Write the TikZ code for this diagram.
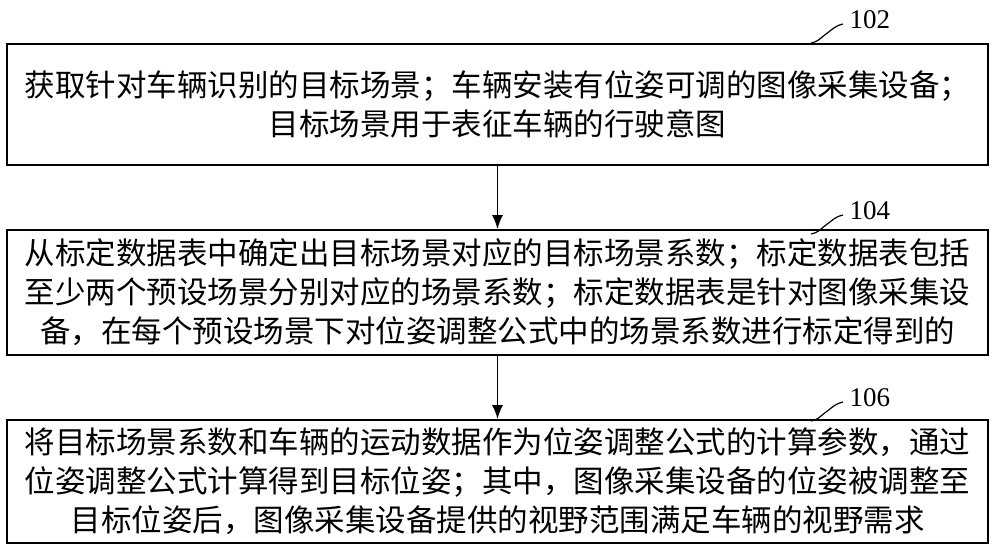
\documentclass[tikz,border=0pt]{standalone}
\usepackage{fontspec}
\usetikzlibrary{calc,arrows.meta}
\setmainfont{Liberation Serif}
\newfontfamily\cjk{Noto Sans CJK SC}
\begin{document}
\begin{tikzpicture}[x=1pt,y=-1pt,
  box/.style={draw,line width=1.6pt,minimum width=981pt,inner sep=0pt,align=center,font=\cjk\fontsize{30.5}{39}\selectfont},
  arr/.style={-{Latex[length=14pt,width=11pt]},line width=1.8pt},
  lab/.style={font=\fontsize{27}{27}\selectfont,anchor=west}]
\useasboundingbox (0,0) rectangle (1000,550);
\node[box,minimum height=121pt] (b1) at (497.5,104.5) {获取针对车辆识别的目标场景；车辆安装有位姿可调的图像采集设备；\\目标场景用于表征车辆的行驶意图};
\node[box,minimum height=125pt] (b2) at (497.5,292.5) {从标定数据表中确定出目标场景对应的目标场景系数；标定数据表包括\\至少两个预设场景分别对应的场景系数；标定数据表是针对图像采集设\\备，在每个预设场景下对位姿调整公式中的场景系数进行标定得到的};
\node[box,minimum height=123pt] (b3) at (497.5,481.5) {将目标场景系数和车辆的运动数据作为位姿调整公式的计算参数，通过\\位姿调整公式计算得到目标位姿；其中，图像采集设备的位姿被调整至\\目标位姿后，图像采集设备提供的视野范围满足车辆的视野需求};
\draw[arr] (b1.south) -- (b2.north);
\draw[arr] (b2.south) -- (b3.north);
\foreach \n/\y/\t in {l1/20/102,l2/211/104,l3/398/106}{
  \node[lab] (\n) at (846,\y) {\t};
  \draw[line width=1.2pt] ($(\n.west)+(-35,23)$) .. controls +(8,-2) and +(-8,6) .. ($(\n.west)+(-20,14)$) .. controls +(8,-6) and +(-8,2) .. ($(\n.west)+(-3,4)$);
}
\end{tikzpicture}
\end{document}
